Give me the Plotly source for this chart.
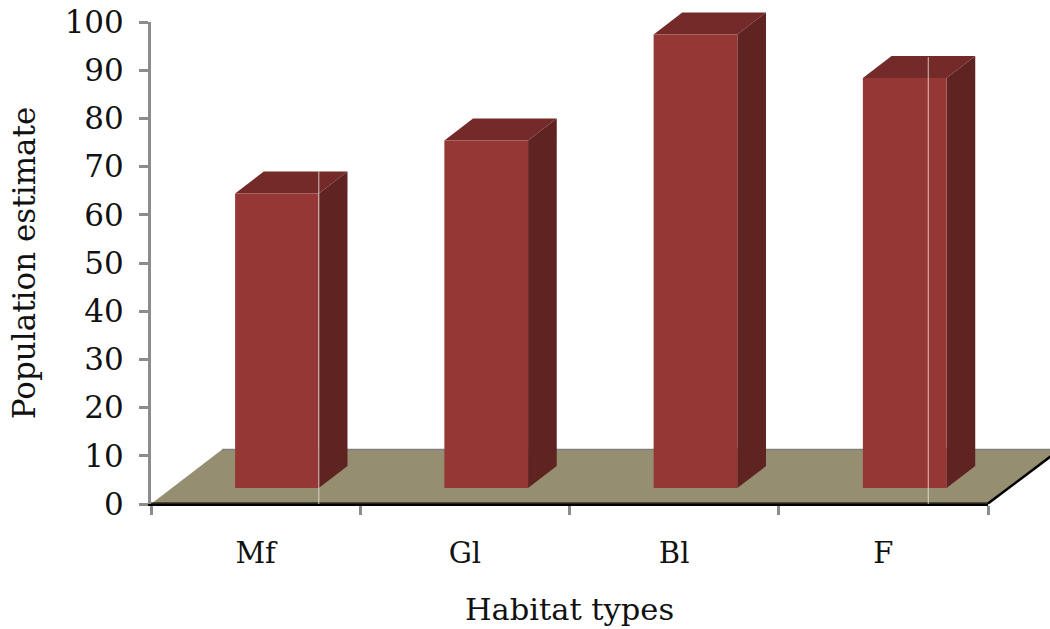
import plotly.graph_objects as go

# ---- data ----
categories = ["Mf", "Gl", "Bl", "F"]
population_front_top = [64.4, 75.4, 97.4, 88.4]   # value of front face top against the axis
y_ticks = list(range(0, 101, 10))
artifact_lines = [(0.802, 69.0), (3.7145, 92.7)]  # faint white streaks: axis position, top value

# ---- drawing parameters (axis units) ----
BAR_OFFSET = 0.402
BAR_WIDTH = 0.40
BAR_BASE = 3.3
DEPTH_X = 0.137
DEPTH_Y = 4.56
FLOOR_DX = 0.34
FLOOR_DY = 11.3
N = len(categories)

# ---- layout frame ----
W, H = 1050, 629
LEFT, RIGHT, TOP_PX, BOTTOM = 151, 988, 22, 504
X_UNIT = (RIGHT - LEFT) / N
Y_UNIT = (BOTTOM - TOP_PX) / 100

FRONT, TOP, SIDE = "#953735", "#742A28", "#5F2422"
FLOOR = "#968E70"
GRAY = "#8C8C8C"


def poly(xs, ys, color, name):
    return go.Scatter(x=xs + xs[:1], y=ys + ys[:1], mode="lines", fill="toself",
                      fillcolor=color, line=dict(width=0, color=color),
                      hoverinfo="skip", showlegend=False, name=name)


def edge(xs, ys, color, width):
    return go.Scatter(x=xs, y=ys, mode="lines", line=dict(color=color, width=width),
                      hoverinfo="skip", showlegend=False)


fig = go.Figure()

# floor
fig.add_trace(poly([0, N, N + FLOOR_DX, FLOOR_DX], [0, 0, FLOOR_DY, FLOOR_DY], FLOOR, "floor"))
fig.add_trace(edge([FLOOR_DX, N + FLOOR_DX], [FLOOR_DY, FLOOR_DY], "#7F7F7F", 1.5))
fig.add_trace(edge([0, N], [0.2, 0.2], "#000000", 1.3))
fig.add_trace(edge([N, N + FLOOR_DX], [0.1, FLOOR_DY - 0.1], "#000000", 2.5))

# bars
for i, v in enumerate(population_front_top):
    x0 = i + BAR_OFFSET
    x1 = x0 + BAR_WIDTH
    fig.add_trace(poly([x0, x1, x1 + DEPTH_X, x0 + DEPTH_X],
                       [v, v, v + DEPTH_Y, v + DEPTH_Y], TOP, "top"))
    fig.add_trace(poly([x1, x1 + DEPTH_X, x1 + DEPTH_X, x1],
                       [BAR_BASE, BAR_BASE + DEPTH_Y, v + DEPTH_Y, v], SIDE, "side"))
    fig.add_trace(poly([x0, x1, x1, x0], [BAR_BASE, BAR_BASE, v, v], FRONT, "front"))

# faint streaks
for x, top in artifact_lines:
    fig.add_trace(edge([x, x], [-0.4, top], "rgba(235,232,228,0.8)", 1))

# invisible trace that keeps the tick-carrying axes alive
fig.add_trace(go.Scatter(x=[i + 0.5 for i in range(N)], y=population_front_top,
                         xaxis="x2", yaxis="y2", mode="markers", marker=dict(opacity=0),
                         hoverinfo="skip", showlegend=False))

fig.update_layout(
    width=W, height=H,
    margin=dict(l=0, r=0, t=0, b=0, autoexpand=False),
    paper_bgcolor="white", plot_bgcolor="rgba(0,0,0,0)",
    font=dict(family="DejaVu Serif", color="#111111"),
    # full-canvas axes for the marks, aligned with the tick axes
    xaxis=dict(domain=[0, 1], range=[-LEFT / X_UNIT, (W - LEFT) / X_UNIT], visible=False),
    yaxis=dict(domain=[0, 1], range=[-(H - BOTTOM) / Y_UNIT, BOTTOM / Y_UNIT], visible=False),
    # visible axes
    xaxis2=dict(domain=[LEFT / W, RIGHT / W], anchor="y2", range=[0, N],
                showgrid=False, zeroline=False,
                tickmode="array", tickvals=[i + 0.5 for i in range(N)], ticktext=categories,
                ticks="", tickfont=dict(size=29), ticklabelstandoff=22,
                showline=True, linecolor="#000000", linewidth=1.5,
                minor=dict(tickmode="array", tickvals=list(range(N + 1)),
                           ticks="outside", ticklen=9, tickwidth=3, tickcolor=GRAY),
                title=dict(text="Habitat types", font=dict(size=30.5), standoff=30)),
    yaxis2=dict(domain=[(H - BOTTOM) / H, (H - TOP_PX) / H], anchor="x2", range=[0, 100],
                showgrid=False, zeroline=False,
                tickmode="array", tickvals=y_ticks,
                ticks="outside", ticklen=9, tickwidth=3, tickcolor=GRAY,
                tickfont=dict(size=31), ticklabelstandoff=9,
                showline=True, linecolor=GRAY, linewidth=3,
                title=dict(text="Population estimate", font=dict(size=31), standoff=20)),
)

fig.write_html("out.html", config={"displayModeBar": False},
               post_script="document.body.style.margin='0';")
